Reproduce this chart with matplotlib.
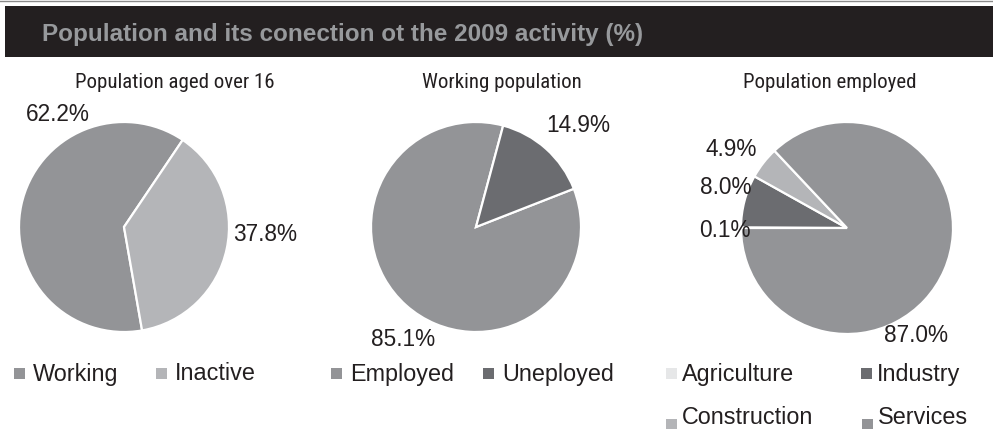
import matplotlib
matplotlib.use("Agg")
import matplotlib.pyplot as plt
from matplotlib.patches import Rectangle
from matplotlib.lines import Line2D

W, H = 993, 429

title = "Population and its conection ot the 2009 activity (%)"

titles = ["Population aged over 16", "Working population", "Population employed"]

labels1 = ["Working", "Inactive"]
values1 = [62.2, 37.8]
labels2 = ["Employed", "Uneployed"]
values2 = [85.1, 14.9]
labels3 = ["Agriculture", "Industry", "Construction", "Services"]
values3 = [0.1, 8.0, 4.9, 87.0]

C_MID = "#939497"
C_LIGHT = "#b4b5b8"
C_DARK = "#6b6c70"
C_PALE = "#e6e7e8"
colors1 = [C_MID, C_LIGHT]
colors2 = [C_MID, C_DARK]
colors3 = [C_PALE, C_DARK, C_LIGHT, C_MID]

INK = "#231f20"
SANS = ["Liberation Sans", "DejaVu Sans"]
COND = ["Roboto Condensed", "PT Sans Narrow", "Liberation Sans", "DejaVu Sans"]

fig = plt.figure(figsize=(W / 100, H / 100), dpi=100)
fig.patch.set_facecolor("white")
renderer = fig.canvas.get_renderer()


def fx(px):
    return px / W


def fy(py):
    return 1 - py / H


def fit_width(t, target_px):
    w = t.get_window_extent(renderer=renderer).width
    if w > 0:
        t.set_fontsize(t.get_fontsize() * target_px / w)
    return t


# thin line at very top and the dark title bar
fig.lines.append(Line2D([0, 1], [fy(0.8), fy(0.8)], transform=fig.transFigure,
                        color="#8a8a8a", linewidth=1.0))
fig.patches.append(Rectangle((fx(5), fy(57)), fx(993) - fx(5), fy(6) - fy(57),
                             transform=fig.transFigure, facecolor=INK,
                             edgecolor="none", zorder=0))
t = fig.text(fx(42), fy(41), title, color="#97999c", fontsize=17.5, fontweight="bold",
             family=SANS, ha="left", va="baseline")
fit_width(t, 600)

title_size = None


def make_pie(cx, cy, r, values, colors, startangle, counterclock, label_pos, title_x, title_txt):
    global title_size
    ax = fig.add_axes([fx(cx - r), fy(cy + r), 2 * r / W, 2 * r / H])
    ax.pie(values, colors=colors, startangle=startangle, counterclock=counterclock,
           radius=1, wedgeprops=dict(edgecolor="white", linewidth=1.6))
    ax.set_xlim(-1, 1)
    ax.set_ylim(-1, 1)
    ax.set_aspect("auto")
    ax.axis("off")
    for v, (lx, ly) in zip(values, label_pos):
        ax.text((lx - cx) / r, (cy - ly) / r, f"{v:.1f}%", fontsize=16.3, family=SANS,
                color=INK, ha="center", va="center", clip_on=False)
    tt = fig.text(fx(title_x), fy(88), title_txt, fontsize=15, family=COND,
                  color=INK, ha="center", va="baseline")
    if title_size is None:
        fit_width(tt, 200)
        title_size = tt.get_fontsize()
    else:
        tt.set_fontsize(title_size)
    return ax


make_pie(124, 227, 105, values1, colors1, 56, True,
         [(57.5, 115), (265, 235)], 174.5, titles[0])
make_pie(476, 227, 105, values2, colors2, 75, True,
         [(403, 339), (578.5, 126)], 502, titles[1])
make_pie(847, 228, 106, values3, colors3, 180, False,
         [(725, 231), (725.5, 188), (731, 150), (916, 335)], 830, titles[2])


def legend_item(mx, my, tx, ty, label, color):
    s = 11
    fig.patches.append(Rectangle((fx(mx), fy(my + s / 2)), s / W, s / H,
                                 transform=fig.transFigure, facecolor=color,
                                 edgecolor="none"))
    fig.text(fx(tx), fy(ty), label, fontsize=16.8, family=SANS, color=INK,
             ha="left", va="center")


legend_item(14, 373, 33, 374, labels1[0], colors1[0])
legend_item(156, 373, 175, 374, labels1[1], colors1[1])
legend_item(331, 373, 350, 374, labels2[0], colors2[0])
legend_item(483, 373, 502, 374, labels2[1], colors2[1])
legend_item(666, 373, 682, 374, labels3[0], colors3[0])
legend_item(861, 373, 877, 374, labels3[1], colors3[1])
legend_item(666, 424, 682, 418, labels3[2], colors3[2])
legend_item(862, 424, 878, 418, labels3[3], colors3[3])

fig.savefig("out.png", dpi=100, facecolor="white")
